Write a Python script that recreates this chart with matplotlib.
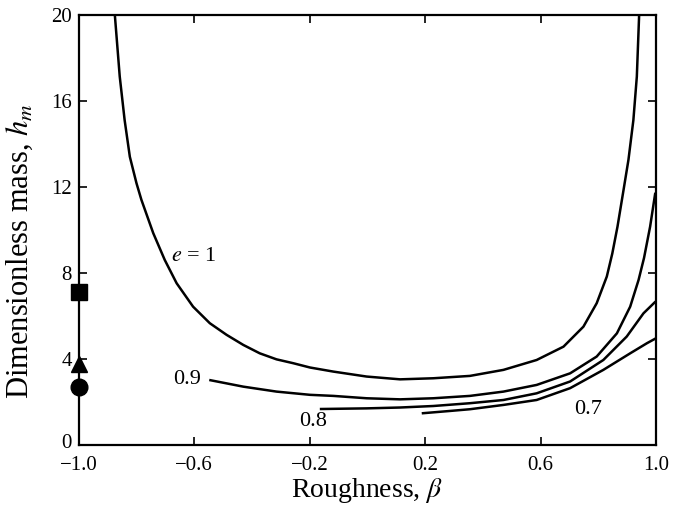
import matplotlib
matplotlib.use("Agg")
import matplotlib.pyplot as plt
from matplotlib.transforms import ScaledTranslation

plt.rcParams.update({
    "font.family": "serif",
    "font.serif": ["Liberation Serif", "DejaVu Serif"],
    "mathtext.fontset": "stix",
    "xtick.direction": "in",
    "ytick.direction": "in",
})

# curves: roughness beta vs dimensionless mass h_m
beta_e10 = [-0.875, -0.858, -0.841, -0.823, -0.800, -0.783, -0.742, -0.702, -0.661,
            -0.604, -0.546, -0.488, -0.430, -0.373, -0.315, -0.257, -0.199, -0.118,
            -0.003, 0.113, 0.228, 0.355, 0.471, 0.586, 0.679, 0.748, 0.794, 0.829,
            0.848, 0.866, 0.887, 0.904, 0.921, 0.933, 0.941]
hm_e10 = [20.0, 17.13, 15.1, 13.4, 12.17, 11.4, 9.85, 8.6, 7.52,
          6.43, 5.66, 5.12, 4.65, 4.26, 3.98, 3.8, 3.6, 3.41,
          3.18, 3.05, 3.1, 3.21, 3.49, 3.95, 4.57, 5.5, 6.59, 7.83,
          8.9, 10.15, 11.86, 13.26, 15.1, 17.13, 20.0]

beta_e09 = [-0.548, -0.430, -0.315, -0.199, -0.118, -0.003, 0.113, 0.228, 0.355,
            0.471, 0.586, 0.702, 0.794, 0.864, 0.910, 0.939, 0.958, 0.979, 0.997]
hm_e09 = [3.02, 2.71, 2.48, 2.33, 2.28, 2.17, 2.12, 2.17, 2.28,
          2.48, 2.79, 3.33, 4.11, 5.19, 6.43, 7.67, 8.7, 10.15, 11.73]

beta_e08 = [-0.165, -0.003, 0.113, 0.228, 0.355, 0.471, 0.586, 0.702, 0.817,
            0.898, 0.956, 0.998]
hm_e08 = [1.67, 1.7, 1.74, 1.81, 1.94, 2.09, 2.4, 2.95, 3.95,
          5.04, 6.12, 6.67]

beta_e07 = [0.188, 0.286, 0.355, 0.471, 0.586, 0.702, 0.817, 0.910, 0.968, 0.998]
hm_e07 = [1.47, 1.58, 1.66, 1.86, 2.09, 2.64, 3.49, 4.26, 4.73, 4.95]

# single points at beta = -1
beta_pts = [-1.0, -1.0, -1.0]
hm_pts = [7.1, 3.75, 2.7]
pt_markers = ["s", "^", "o"]
pt_sizes = [12, 11, 12]

xticks = [-1.0, -0.6, -0.2, 0.2, 0.6, 1.0]
xticklabels = ["\u22121.0", "\u22120.6", "\u22120.2", "0.2", "0.6", "1.0"]
yticks = [0, 4, 8, 12, 16, 20]

fig = plt.figure(figsize=(6.73, 5.12), dpi=100)
ax = fig.add_axes([0.117, 0.131, 0.858, 0.84])

for b, h in [(beta_e10, hm_e10), (beta_e09, hm_e09), (beta_e08, hm_e08), (beta_e07, hm_e07)]:
    ax.plot(b, h, color="black", lw=1.8, solid_capstyle="butt", solid_joinstyle="round")

for b, h, m, s in zip(beta_pts, hm_pts, pt_markers, pt_sizes):
    ax.plot(b, h, marker=m, color="black", ms=s, ls="none", clip_on=False, zorder=5)

ax.text(-0.68, 8.76, r"$e$ = 1", fontsize=16, ha="left", va="center")
ax.text(-0.575, 3.02, "0.9", fontsize=16, ha="right", va="center")
ax.text(-0.19, 1.07, "0.8", fontsize=16, ha="center", va="center")
ax.text(0.765, 1.63, "0.7", fontsize=16, ha="center", va="center")

ax.set_xlim(-1.0, 1.0)
ax.set_ylim(0, 20)
ax.set_xticks(xticks)
ax.set_xticklabels(xticklabels)
ax.set_yticks(yticks)
ax.tick_params(top=True, right=True, labelsize=15, length=6, width=1.2, pad=5)
ax.tick_params(axis="x", pad=8)
for s in ax.spines.values():
    s.set_linewidth(1.6)

# the "0" label sits a little high, clear of "-1.0" below it
lab0 = ax.get_yticklabels()[0]
lab0.set_transform(lab0.get_transform() + ScaledTranslation(0, 3 / 72, fig.dpi_scale_trans))

ax.set_xlabel(r"Roughness, $\beta$", fontsize=20, labelpad=1)
ax.set_ylabel(r"Dimensionless mass, $h_m$", fontsize=22)
ax.yaxis.set_label_coords(-0.075, 0.45)

fig.savefig("out.png", dpi=100)
